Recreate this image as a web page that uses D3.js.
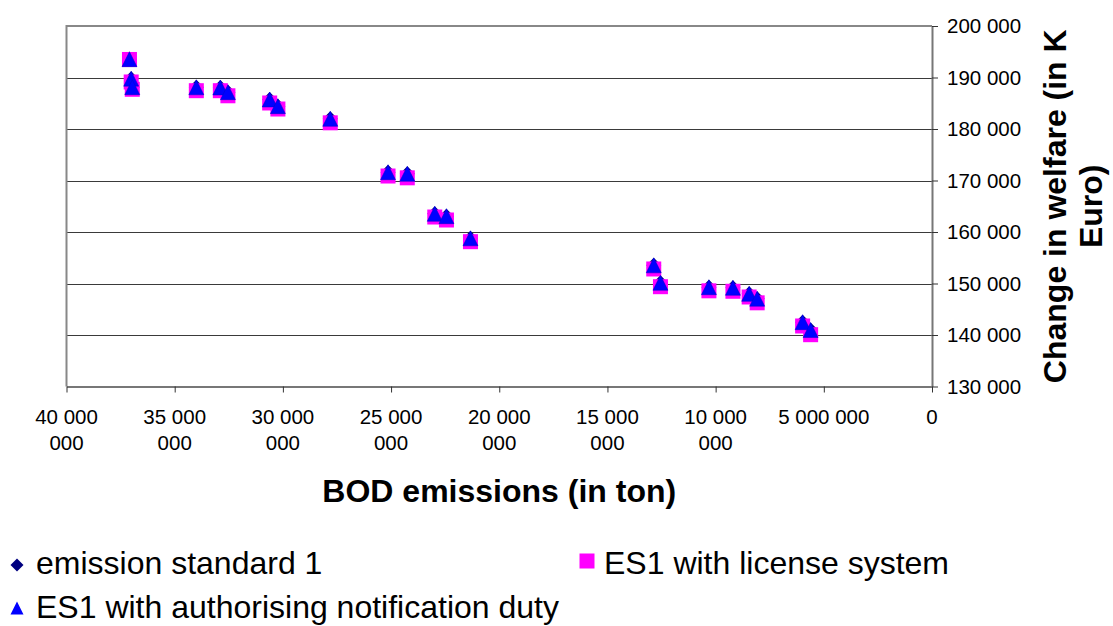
<!DOCTYPE html>
<html>
<head>
<meta charset="utf-8">
<script src="https://cdn.jsdelivr.net/npm/d3@7"></script>
<style>
  body { margin: 0; background: #fff; }
  svg { display: block; font-family: "Liberation Sans", Arial, sans-serif; }
</style>
</head>
<body>
<div id="chart"></div>
<script>
// BOD emissions (ton) for each scenario point
const bod = [37090000, 37010000, 36960000, 34000000, 32890000, 32540000, 30610000, 30230000,
  27810000, 25140000, 24250000, 22980000, 22440000, 21330000, 12860000, 12550000,
  10310000, 9200000, 8450000, 8080000, 5980000, 5610000];

// change in welfare (K Euro) per series
const emissionStandard = [193550, 189770, 188120, 188100, 188060, 187150, 185730, 184430,
  181980, 171610, 171300, 163540, 163070, 158780, 153530, 150140,
  149280, 149170, 148000, 147050, 142490, 140970];
const licenseSystem = [193500, 189130, 187710, 187440, 187440, 186450, 185050, 183880,
  181200, 170870, 170520, 162910, 162330, 158120, 152820, 149380,
  148580, 148490, 147380, 146250, 141750, 140060];
const notificationDuty = [193550, 189770, 188120, 188100, 188060, 187150, 185730, 184430,
  181980, 171610, 171300, 163540, 163070, 158780, 153530, 150140,
  149280, 149170, 148000, 147050, 142490, 140970];

const xTicks = [40000000, 35000000, 30000000, 25000000, 20000000, 15000000, 10000000, 5000000, 0];
const yTicks = [130000, 140000, 150000, 160000, 170000, 180000, 190000, 200000];

const seriesNames = ["emission standard 1", "ES1 with license system", "ES1 with authorising notification duty"];

const W = 1113, H = 626;
const plot = { left: 66.5, right: 932, top: 26, bottom: 386.5 };

const svg = d3.select("#chart").append("svg")
  .attr("width", W)
  .attr("height", H);

const x = d3.scaleLinear().domain([40000000, 0]).range([plot.left, plot.right]);
const y = d3.scaleLinear().domain([130000, 200000]).range([plot.bottom, plot.top]);

const fmt = d3.formatLocale({ decimal: ",", thousands: " ", grouping: [3], currency: ["", ""] }).format(",");

// gridlines
svg.append("g")
  .selectAll("line")
  .data(yTicks.slice(1, -1))
  .enter().append("line")
  .attr("x1", plot.left).attr("x2", plot.right)
  .attr("y1", d => Math.round(y(d)) + 0.5)
  .attr("y2", d => Math.round(y(d)) + 0.5)
  .attr("stroke", "#3a3a3a")
  .attr("stroke-width", 1);

// plot frame (left + top in grey)
svg.append("path")
  .attr("d", `M${plot.left},${plot.bottom} V${plot.top} H${plot.right}`)
  .attr("fill", "none")
  .attr("stroke", "#888")
  .attr("stroke-width", 2);

// right y axis
const yAxis = svg.append("g")
  .attr("transform", `translate(${plot.right},0)`)
  .call(d3.axisRight(y).tickValues(yTicks).tickSize(6).tickSizeOuter(0).tickFormat(fmt));
yAxis.select(".domain").attr("stroke", "#777").attr("stroke-width", 2);
yAxis.selectAll(".tick line").attr("stroke", "#333");
yAxis.selectAll(".tick text")
  .attr("x", 15)
  .attr("font-size", 20.5)
  .attr("fill", "#000")
  .attr("font-family", "Liberation Sans, Arial, sans-serif");

// bottom x axis
const xAxis = svg.append("g")
  .attr("transform", `translate(0,${plot.bottom})`)
  .call(d3.axisBottom(x).tickValues(xTicks).tickSize(6).tickSizeOuter(0).tickFormat(""));
xAxis.select(".domain").attr("stroke", "#777").attr("stroke-width", 2);
xAxis.selectAll(".tick line").attr("stroke", "#333");

// wrapped x tick labels
const xLab = svg.append("g")
  .selectAll("text")
  .data(xTicks)
  .enter().append("text")
  .attr("text-anchor", "middle")
  .attr("font-size", 20.5)
  .attr("fill", "#000");
xLab.each(function(d) {
  const s = fmt(d);
  const lines = s.length > 9 ? [s.slice(0, s.lastIndexOf(" ")), s.slice(s.lastIndexOf(" ") + 1)] : [s];
  const t = d3.select(this);
  lines.forEach((ln, i) => {
    t.append("tspan")
      .attr("x", x(d))
      .attr("y", 424 + i * 26)
      .text(ln);
  });
});

// axis titles
svg.append("text")
  .attr("x", (plot.left + plot.right) / 2)
  .attr("y", 502)
  .attr("text-anchor", "middle")
  .attr("font-size", 32)
  .attr("font-weight", "bold")
  .text("BOD emissions (in ton)");

const yTitle = svg.append("text")
  .attr("transform", `translate(1066,${(plot.top + plot.bottom) / 2}) rotate(-90)`)
  .attr("text-anchor", "middle")
  .attr("font-size", 32)
  .attr("font-weight", "bold");
yTitle.append("tspan").attr("x", 0).attr("y", 0).text("Change in welfare (in K");
yTitle.append("tspan").attr("x", 0).attr("y", 36).text("Euro)");

// markers
const sq = 15;
const triPath = (w, h) => `M0,${-h / 2} L${w / 2},${h / 2} L${-w / 2},${h / 2} Z`;
const diaPath = (w, h) => `M0,${-h / 2} L${w / 2},0 L0,${h / 2} L${-w / 2},0 Z`;

const pts = (vals) => bod.map((b, i) => ({ x: b, y: vals[i] }));

svg.append("g")
  .selectAll("path")
  .data(pts(emissionStandard))
  .enter().append("path")
  .attr("d", diaPath(15, 15))
  .attr("transform", d => `translate(${x(d.x)},${y(d.y)})`)
  .attr("fill", "#000080");

svg.append("g")
  .selectAll("rect")
  .data(pts(licenseSystem))
  .enter().append("rect")
  .attr("x", d => x(d.x) - sq / 2)
  .attr("y", d => y(d.y) - sq / 2)
  .attr("width", sq)
  .attr("height", sq)
  .attr("fill", "#ff00ff");

svg.append("g")
  .selectAll("path")
  .data(pts(notificationDuty))
  .enter().append("path")
  .attr("d", triPath(15, 15))
  .attr("transform", d => `translate(${x(d.x)},${y(d.y)})`)
  .attr("fill", "#0000ff")
  .attr("stroke", "#0000cc")
  .attr("stroke-width", 0.5);

// legend
const legend = svg.append("g").attr("font-size", 32).attr("fill", "#000");
const legendItems = [
  { name: seriesNames[0], mx: 17, my: 565, tx: 36, ty: 574, shape: "diamond" },
  { name: seriesNames[1], mx: 587, my: 561, tx: 604, ty: 574, shape: "square" },
  { name: seriesNames[2], mx: 17, my: 608, tx: 36, ty: 618, shape: "triangle" }
];
legendItems.forEach(it => {
  if (it.shape === "diamond") {
    legend.append("path").attr("d", diaPath(13, 13))
      .attr("transform", `translate(${it.mx},${it.my})`).attr("fill", "#000080");
  } else if (it.shape === "square") {
    legend.append("rect").attr("x", it.mx - 7.5).attr("y", it.my - 7.5)
      .attr("width", 15).attr("height", 15).attr("fill", "#ff00ff");
  } else {
    legend.append("path").attr("d", triPath(13, 13))
      .attr("transform", `translate(${it.mx},${it.my})`).attr("fill", "#0000ff");
  }
  legend.append("text").attr("x", it.tx).attr("y", it.ty).text(it.name);
});
</script>
</body>
</html>
